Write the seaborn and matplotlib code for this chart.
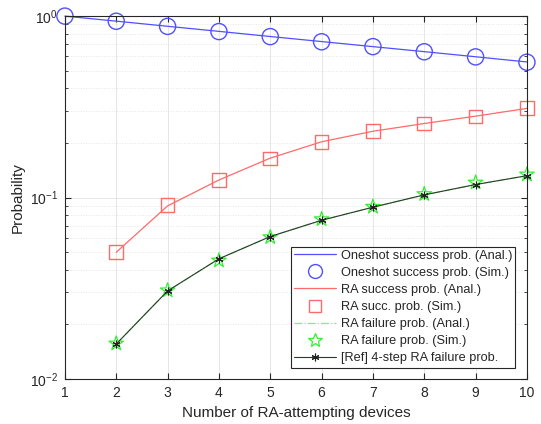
import numpy as np
import pandas as pd
import matplotlib
matplotlib.use('Agg')
import matplotlib.pyplot as plt
from matplotlib.lines import Line2D
import seaborn as sns

# values
devices = [1, 2, 3, 4, 5, 6, 7, 8, 9, 10]
oneshot_anal = [1.0, 0.938, 0.879, 0.824, 0.772, 0.724, 0.679, 0.637, 0.597, 0.559]
oneshot_sim = [1.0, 0.937, 0.878, 0.822, 0.771, 0.722, 0.679, 0.636, 0.596, 0.557]

ra_devices = [2, 3, 4, 5, 6, 7, 8, 9, 10]
ra_succ_anal = [0.050, 0.090, 0.125, 0.165, 0.203, 0.232, 0.256, 0.281, 0.310]
ra_succ_sim = [0.050, 0.091, 0.125, 0.164, 0.202, 0.232, 0.256, 0.280, 0.311]
ra_fail_anal = [0.0156, 0.0306, 0.0460, 0.0610, 0.0750, 0.0885, 0.1035, 0.1180, 0.1320]
ra_fail_sim = [0.0157, 0.0308, 0.0450, 0.0605, 0.0760, 0.0890, 0.1045, 0.1210, 0.1340]
ref_fail = [0.0156, 0.0306, 0.0460, 0.0610, 0.0750, 0.0885, 0.1035, 0.1180, 0.1320]

labels = ['Oneshot success prob. (Anal.)', 'Oneshot success prob. (Sim.)',
          'RA success prob. (Anal.)', 'RA succ. prob. (Sim.)',
          'RA failure prob. (Anal.)', 'RA failure prob. (Sim.)',
          '[Ref] 4-step RA failure prob.']

sns.set_style('white')
plt.rcParams['font.family'] = ['Liberation Sans', 'DejaVu Sans']
plt.rcParams['mathtext.fontset'] = 'custom'
plt.rcParams['mathtext.rm'] = 'Liberation Sans'
plt.rcParams['mathtext.it'] = 'Liberation Sans'

blue, red, green, lgreen, dark = '#5050ff', '#ff6a6a', '#33ee33', '#7fef7f', '#2a3a2a'

fig = plt.figure(figsize=(5.41, 4.24), dpi=100)
ax = fig.add_axes([0.120, 0.106, 0.854, 0.856])

df1 = pd.DataFrame({'n': devices, 'anal': oneshot_anal, 'sim': oneshot_sim})
df2 = pd.DataFrame({'n': ra_devices, 'succ_anal': ra_succ_anal, 'succ_sim': ra_succ_sim,
                    'fail_anal': ra_fail_anal, 'fail_sim': ra_fail_sim, 'ref': ref_fail})

sns.lineplot(data=df1, x='n', y='anal', ax=ax, color=blue, lw=0.9)
sns.scatterplot(data=df1, x='n', y='sim', ax=ax, marker='o', s=135, facecolors='none',
                edgecolors=blue, linewidth=1.0)
sns.lineplot(data=df2, x='n', y='succ_anal', ax=ax, color=red, lw=0.9)
sns.scatterplot(data=df2, x='n', y='succ_sim', ax=ax, marker='s', s=95, facecolors='none',
                edgecolors=red, linewidth=1.0)
sns.lineplot(data=df2, x='n', y='fail_anal', ax=ax, color=lgreen, lw=0.9, linestyle='-.')
sns.scatterplot(data=df2, x='n', y='fail_sim', ax=ax, marker='*', s=120, facecolors='none',
                edgecolors=green, linewidth=0.9)
sns.lineplot(data=df2, x='n', y='ref', ax=ax, color=dark, lw=0.8, marker=(6, 2, 0),
             markersize=5.5, markeredgecolor='#222222', markeredgewidth=0.8)

# let markers at the edges spill over the axes like the original
for art in ax.collections + ax.lines:
    art.set_clip_on(False)

ax.set_yscale('log')
ax.set_xlim(1, 10)
ax.set_ylim(0.01, 1)
ax.set_xticks(devices)
ax.set_xticklabels([str(d) for d in devices])
ax.grid(True, which='major', color='#e6e6e6', lw=0.7)
ax.grid(True, which='minor', axis='y', color='#e6e6e6', lw=0.7, linestyle=':')
ax.tick_params(axis='both', which='both', direction='in', labelsize=10, colors='#262626',
               top=True, right=True, left=True, bottom=True)
ax.tick_params(axis='both', which='major', length=4, pad=5)
ax.tick_params(axis='y', which='minor', length=2)
for sp in ax.spines.values():
    sp.set_color('#262626')
    sp.set_linewidth(0.8)
ax.set_xlabel('Number of RA-attempting devices', fontsize=11, color='#262626')
ax.set_ylabel('Probability', fontsize=11, color='#262626')

handles = [
    Line2D([], [], color=blue, lw=0.9),
    Line2D([], [], ls='', marker='o', ms=10, mfc='none', mec=blue, mew=1.0),
    Line2D([], [], color=red, lw=0.9),
    Line2D([], [], ls='', marker='s', ms=8, mfc='none', mec=red, mew=1.0),
    Line2D([], [], color=lgreen, lw=0.9, ls='-.'),
    Line2D([], [], ls='', marker='*', ms=10, mfc='none', mec=green, mew=0.9),
    Line2D([], [], color=dark, lw=0.8, marker=(6, 2, 0), ms=5.5, mec='#222222', mew=0.8),
]
leg = ax.legend(handles, labels, loc='lower right', fontsize=9.2, frameon=True,
                fancybox=False, edgecolor='#262626', framealpha=1, borderaxespad=0.9,
                handlelength=3.3, labelspacing=0.4, borderpad=0.25, handletextpad=0.35)
leg.get_frame().set_linewidth(0.8)
leg.set_zorder(5)

fig.savefig('out.png', dpi=100)
